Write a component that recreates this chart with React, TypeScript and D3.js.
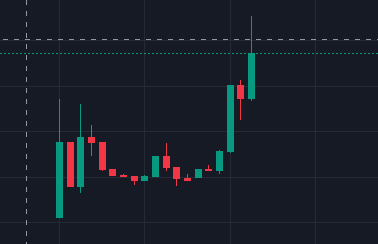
import React from "react";
import * as d3 from "d3";

const opens = [60.9, 77.6, 67.7, 78.7, 77.6, 71.7, 70.3, 70.1, 69.0, 69.9, 74.5, 72.1, 69.7, 69.7, 71.7, 71.2, 75.4, 90.1, 87.0];
const highs = [87.0, 77.6, 85.9, 81.3, 77.6, 71.7, 70.5, 70.1, 70.3, 74.5, 77.4, 72.1, 70.5, 71.7, 72.5, 75.8, 90.1, 91.2, 105.3];
const lows = [60.9, 67.7, 66.4, 74.6, 71.2, 70.1, 69.9, 68.1, 69.0, 69.9, 71.2, 67.9, 69.0, 69.7, 71.2, 70.5, 75.2, 82.4, 86.6];
const closes = [77.6, 67.7, 78.7, 77.4, 71.4, 70.1, 69.9, 69.0, 70.1, 74.5, 71.9, 69.4, 69.0, 71.7, 71.2, 75.6, 90.1, 87.0, 97.1];
const priceTicks = [100, 90, 80, 70, 60];
const timeTicks = [0, 8, 16, 24];
const crosshairIndex = -3.1;
const crosshairPrice = 100.2;

const W = 378;
const H = 244;
const UP = "#089981";
const DOWN = "#F23645";

export default function App() {
  const x = d3.scaleLinear().domain([0, 18]).range([59.5, 251.5]);
  const y = d3.scaleLinear().domain([60, 100]).range([222, 40]);
  const last = closes[closes.length - 1];
  const lastUp = last >= opens[opens.length - 1];

  return (
    <svg width={W} height={H} style={{ display: "block", position: "absolute", left: 0, top: 0 }}>
      <rect x={0} y={0} width={W} height={H} fill="#161A25" />
      {priceTicks.map((p) => {
        const yy = Math.round(y(p)) + 0.5;
        return <line key={"h" + p} x1={0} x2={W} y1={yy} y2={yy} stroke="#262a36" strokeWidth={1} />;
      })}
      {timeTicks.map((t) => {
        const xx = Math.floor(x(t)) + 0.5;
        return <line key={"v" + t} x1={xx} x2={xx} y1={0} y2={H} stroke="#262a36" strokeWidth={1} />;
      })}
      {closes.map((c, i) => {
        const o = opens[i];
        const up = c >= o;
        const color = up ? UP : DOWN;
        const bx = Math.round(x(i) - 3.5);
        const top = Math.round(y(Math.max(o, c)));
        const bot = Math.round(y(Math.min(o, c)));
        const hy = Math.round(y(highs[i]));
        const ly = Math.round(y(lows[i]));
        return (
          <g key={i}>
            <line x1={bx + 3.5} x2={bx + 3.5} y1={hy} y2={ly} stroke={color} strokeWidth={1} />
            <rect x={bx} y={top} width={7} height={Math.max(1, bot - top)} fill={color} />
          </g>
        );
      })}
      <line
        x1={0}
        x2={W}
        y1={Math.round(y(last)) + 0.5}
        y2={Math.round(y(last)) + 0.5}
        stroke={lastUp ? UP : DOWN}
        strokeWidth={1}
        strokeDasharray="2 2"
      />
      <line
        x1={0}
        x2={W}
        y1={Math.floor(y(crosshairPrice)) + 0.5}
        y2={Math.floor(y(crosshairPrice)) + 0.5}
        stroke="#9598A1"
        strokeWidth={1}
        strokeDasharray="5 6"
        strokeDashoffset={-3}
      />
      <line
        x1={Math.floor(x(crosshairIndex)) + 0.5}
        x2={Math.floor(x(crosshairIndex)) + 0.5}
        y1={0}
        y2={H}
        stroke="#9598A1"
        strokeWidth={1}
        strokeDasharray="5 6"
      />
    </svg>
  );
}
